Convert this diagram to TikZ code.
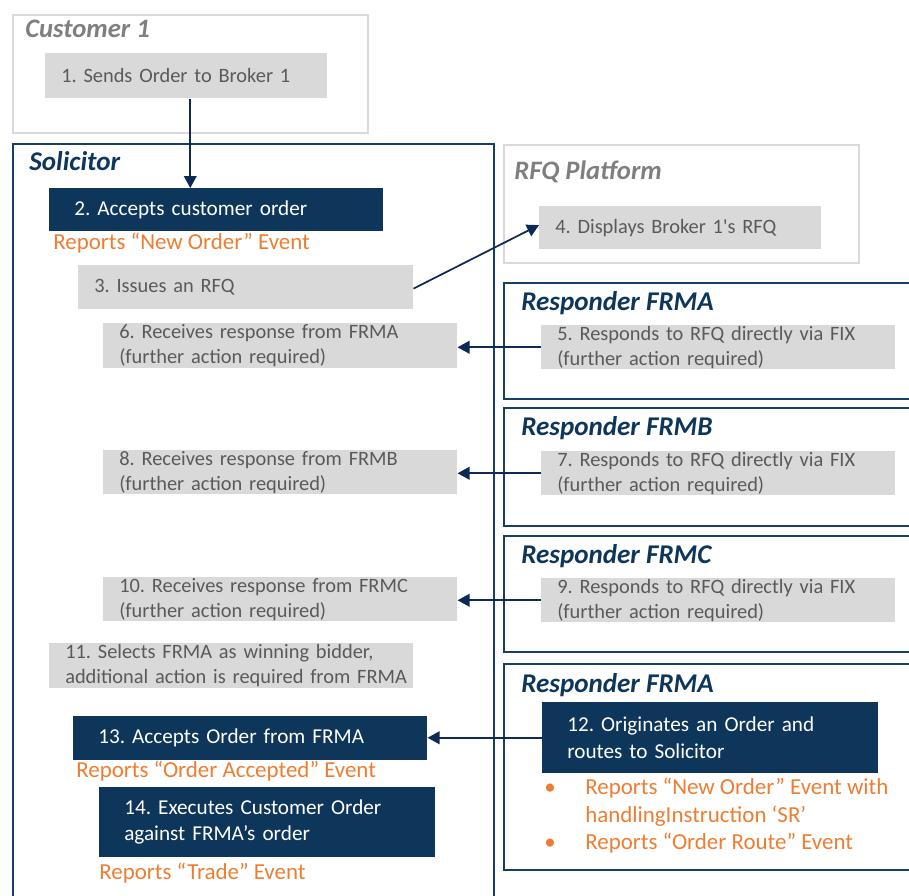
\documentclass[tikz,border=0pt]{standalone}
\usepackage{fontspec}
\setmainfont{Carlito}
\usetikzlibrary{arrows.meta}
\definecolor{navy}{HTML}{0D365A}
\definecolor{framenavy}{HTML}{173F63}
\definecolor{arrowc}{HTML}{0D2A55}
\definecolor{boxgray}{HTML}{D9D9D9}
\definecolor{boxtext}{HTML}{5A5A5A}
\definecolor{titlegray}{HTML}{7F7F7F}
\definecolor{lightframe}{HTML}{D9D9D9}
\definecolor{orng}{HTML}{ED7D31}
\frenchspacing
\begin{document}
\begin{tikzpicture}[x=0.75pt,y=-0.75pt,
  frameL/.style={draw=lightframe, line width=1.8pt, anchor=north west, inner sep=0pt},
  frameN/.style={draw=framenavy, line width=1.8pt, anchor=north west, inner sep=0pt},
  ttlG/.style={anchor=base west, inner sep=0pt, text=titlegray, font=\fontsize{20}{24}\selectfont\bfseries\itshape},
  ttlN/.style={anchor=base west, inner sep=0pt, text=navy, font=\fontsize{20.3}{24}\selectfont\bfseries\itshape},
  gbox/.style={fill=boxgray, text=boxtext, anchor=north west, align=left, inner xsep=12pt, inner ysep=0pt, font=\fontsize{15.3}{18.9}\selectfont},
  nbox/.style={fill=navy, text=white, anchor=north west, align=left, inner xsep=18.75pt, inner ysep=0pt, font=\fontsize{15.9}{19.6}\selectfont},
  rep/.style={anchor=base west, inner sep=0pt, text=orng, font=\fontsize{17.2}{20.6}\selectfont},
  arr/.style={draw=arrowc, line width=1.3pt, -{Triangle[length=9pt,width=9.5pt]}}
]
\useasboundingbox (0,0) rectangle (909,895);

% containers
\node[frameL, minimum width=266.25pt, minimum height=88.5pt] (cust) at (12,14) {};
\node[ttlG] (custT) at (25,38) {Customer 1};
\node[frameN, minimum width=360.75pt, minimum height=582.75pt] (sol) at (12,143) {};
\node[ttlN] (solT) at (29,171) {Solicitor};
\node[frameL, minimum width=266.25pt, minimum height=88.5pt] (rfq) at (503,144) {};
\node[ttlG] (rfqT) at (514,180) {RFQ Platform};
\node[frameN, minimum width=337.5pt, minimum height=87pt] (ra) at (503,282) {};
\node[ttlN] (raT) at (521,310) {Responder FRMA};
\node[frameN, minimum width=337.5pt, minimum height=88.5pt] (rb) at (503,407) {};
\node[ttlN] (rbT) at (521,435) {Responder FRMB};
\node[frameN, minimum width=337.5pt, minimum height=87pt] (rc) at (503,535) {};
\node[ttlN] (rcT) at (521,563) {Responder FRMC};
\node[frameN, minimum width=337.5pt, minimum height=154.5pt] (ra2) at (503,663) {};
\node[ttlN] (ra2T) at (521,692) {Responder FRMA};

% step boxes
\node[gbox, text width=187.5pt, minimum height=33.75pt] (b1) at (45,53) {1. Sends Order to Broker 1};
\node[nbox, text width=213pt, minimum height=32.25pt] (b2) at (49,188) {2. Accepts customer order};
\node[rep] (r2) at (53,249) {Reports “New Order” Event};
\node[gbox, text width=227.25pt, minimum height=33pt] (b3) at (78,265) {3. Issues an RFQ};
\node[gbox, text width=187.5pt, minimum height=32.25pt] (b4) at (539,206) {4. Displays Broker 1\textquotesingle s RFQ};
\node[gbox, text width=241.5pt, minimum height=33pt] (b5) at (541,325) {5. Responds to RFQ directly via FIX\\(further action required)};
\node[gbox, text width=241.5pt, minimum height=33.75pt] (b6) at (103,323) {6. Receives response from FRMA\\(further action required)};
\node[gbox, text width=241.5pt, minimum height=33pt] (b7) at (541,451) {7. Responds to RFQ directly via FIX\\(further action required)};
\node[gbox, text width=241.5pt, minimum height=33pt] (b8) at (103,450) {8. Receives response from FRMB\\(further action required)};
\node[gbox, text width=241.5pt, minimum height=33pt] (b9) at (541,578) {9. Responds to RFQ directly via FIX\\(further action required)};
\node[gbox, text width=241.5pt, minimum height=33pt] (b10) at (103,577) {10. Receives response from FRMC\\(further action required)};
\node[gbox, text width=249pt, minimum height=33.75pt] (b11) at (49,643) {\mbox{11. Selects FRMA as winning bidder,}\\\mbox{additional action is required from FRMA}};
\node[nbox, text width=214.5pt, minimum height=53.25pt] (b12) at (542,702) {12. Originates an Order and\\routes to Solicitor};
\node[rep] (bul1) at (544,794) {•};
\node[rep] (r12a) at (585,794) {Reports “New Order” Event with};
\node[rep] (r12b) at (585,822) {handlingInstruction ‘SR’};
\node[rep] (bul2) at (544,849) {•};
\node[rep] (r12c) at (585,849) {Reports “Order Route” Event};
\node[nbox, text width=228pt, minimum height=33pt] (b13) at (73,716) {13. Accepts Order from FRMA};
\node[rep] (r13) at (76,777) {Reports “Order Accepted” Event};
\node[nbox, text width=214.5pt, minimum height=52.5pt] (b14) at (99,787) {14. Executes Customer Order\\against FRMA’s order};
\node[rep] (r14) at (99,879) {Reports “Trade” Event};

% connectors
\draw[arr] ([xshift=3pt]b1.south) -- ([xshift=3pt]b1.south |- b2.north);
\draw[arr] ([yshift=-1pt]b3.east) -- ([yshift=2pt]b4.west);
\draw[arr] (b5.west) -- (b5.west -| b6.east);
\draw[arr] (b7.west) -- (b7.west -| b8.east);
\draw[arr] (b9.west) -- (b9.west -| b10.east);
\draw[arr] (b12.west) -- (b12.west -| b13.east);
\end{tikzpicture}
\end{document}
